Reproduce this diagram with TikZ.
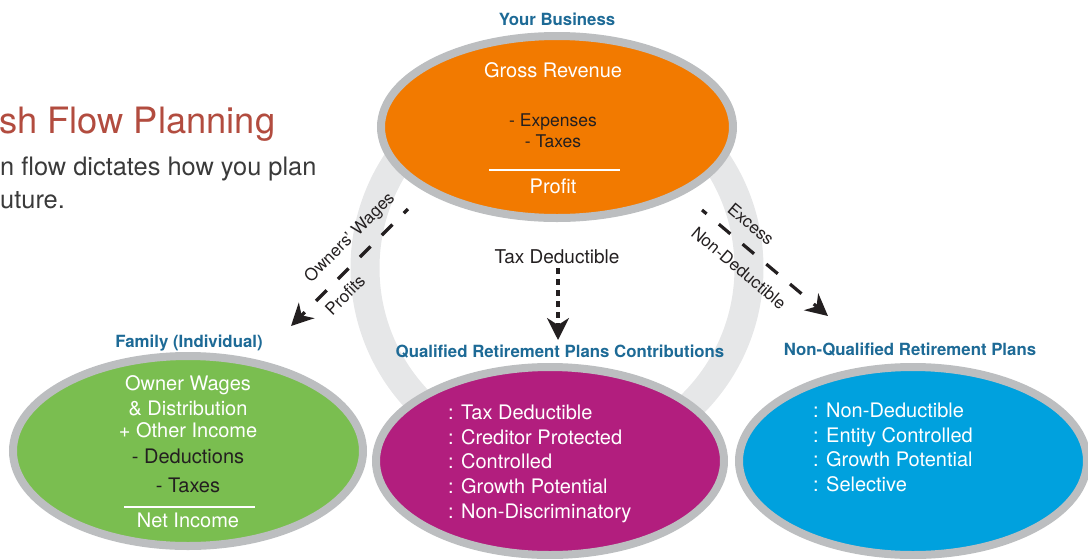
\documentclass[tikz,border=0pt]{standalone}
\usepackage{fontspec}
\setmainfont{TeX Gyre Heros}
\usetikzlibrary{arrows.meta}

\definecolor{bizorange}{RGB}{242,122,0}
\definecolor{famgreen}{RGB}{122,190,80}
\definecolor{qualmagenta}{RGB}{178,30,126}
\definecolor{nqblue}{RGB}{0,161,222}
\definecolor{rimgray}{RGB}{188,190,192}
\definecolor{ringgray}{RGB}{230,231,232}
\definecolor{headblue}{RGB}{29,106,150}
\definecolor{titlered}{RGB}{178,76,63}
\definecolor{bodygray}{RGB}{58,58,58}
\definecolor{ink}{RGB}{35,31,32}

\begin{document}
\begin{tikzpicture}[x=1pt,y=-1pt,
  blob/.style={draw=rimgray,line width=8pt},
  head/.style={inner sep=0pt,anchor=base,text=headblue,
    font=\fontsize{16.8}{18}\selectfont\bfseries},
  big/.style={inner sep=0pt,anchor=base,font=\fontsize{20}{22}\selectfont},
  mid/.style={inner sep=0pt,anchor=base,font=\fontsize{17.5}{19}\selectfont},
  item/.style={big,anchor=base west,text=white},
  flowlabel/.style={inner sep=0pt,text=ink,font=\fontsize{17}{19}\selectfont},
  flow/.style={draw=ink,line width=3.2pt,
    -{Stealth[length=22pt,width=22pt,inset=7pt]}},
  divider/.style={draw=white,line width=1.6pt}]
\useasboundingbox (0,0) rectangle (1088,558);
\clip (0,0) rectangle (1088,558);

% heading and intro text
\node[inner sep=0pt,anchor=base west,text=titlered,
  font=\fontsize{36.3}{40}\selectfont] (title) at (-1,133) {sh Flow Planning};
\node[inner sep=0pt,anchor=base west,text=bodygray,
  font=\fontsize{25.4}{30}\selectfont] (introA) at (0,175) {n flow dictates how you plan};
\node[inner sep=0pt,anchor=base west,text=bodygray,
  font=\fontsize{25.4}{30}\selectfont] (introB) at (0,208) {uture.};

% light ring linking the business to the plans
\draw[ringgray,line width=29pt] (557,268) circle [radius=192];

% centres of the four ellipses
\coordinate (biz) at (557,127);
\coordinate (fam) at (188,451);
\coordinate (qual) at (550,461);
\coordinate (nq) at (913,461);

\draw[blob,fill=bizorange] (biz) ellipse [x radius=176,y radius=91];
\draw[blob,fill=famgreen] (fam) ellipse [x radius=175,y radius=95];
\draw[blob,fill=qualmagenta] (qual) ellipse [x radius=174,y radius=94];
\draw[blob,fill=nqblue] (nq) ellipse [x radius=174,y radius=94];

% headings
\node[head] (bizHead) at (557,25) {Your Business};
\node[head] (famHead) at (189,347) {Family (Individual)};
\node[head] (qualHead) at (560,357) {Qualified Retirement Plans Contributions};
\node[head] (nqHead) at (910,355) {Non-Qualified Retirement Plans};

% business
\node[big,text=white] (gross) at (553,77) {Gross Revenue};
\node[mid,text=ink] (expenses) at (553,126) {- Expenses};
\node[mid,text=ink] (bizTaxes) at (553,147) {- Taxes};
\draw[divider] (489,170) -- (620,170);
\node[big,text=white] (profit) at (553,193) {Profit};

% family
\node[big,text=white] (wages) at (188,390) {Owner Wages};
\node[big,text=white] (distrib) at (188,415) {\& Distribution};
\node[big,text=white] (other) at (188,437) {+ Other Income};
\node[big,text=ink] (deduct) at (188,463) {- Deductions};
\node[big,text=ink] (famTaxes) at (188,492) {- Taxes};
\draw[divider] (124,507) -- (255,507);
\node[big,text=white] (net) at (188,527) {Net Income};

% qualified plans
\node[item] (q1) at (448,419) {: Tax Deductible};
\node[item] (q2) at (448,444) {: Creditor Protected};
\node[item] (q3) at (448,468) {: Controlled};
\node[item] (q4) at (448,493) {: Growth Potential};
\node[item] (q5) at (448,518) {: Non-Discriminatory};

% non-qualified plans
\node[item] (n1) at (813,417) {: Non-Deductible};
\node[item] (n2) at (813,442) {: Entity Controlled};
\node[item] (n3) at (813,466) {: Growth Potential};
\node[item] (n4) at (813,491) {: Selective};

% flows out of the business
\coordinate (wagesFrom) at (408,209);
\coordinate (wagesTo) at (291,326);
\coordinate (taxFrom) at (558,268);
\coordinate (taxTo) at (558,340);
\coordinate (excessFrom) at (702,210);
\coordinate (excessTo) at (828,316);

\draw[flow,dash pattern=on 15pt off 16pt,dash phase=9pt] (wagesFrom) -- (wagesTo);
\draw[flow,dash pattern=on 6pt off 5pt] (taxFrom) -- (taxTo);
\draw[flow,dash pattern=on 15pt off 16pt,dash phase=9pt] (excessFrom) -- (excessTo);

\node[flowlabel,rotate=45] (ownersLbl) at (350,238) {Owners’ Wages};
\node[flowlabel,rotate=45] (profitsLbl) at (345,295) {Profits};
\node[inner sep=0pt,anchor=base,text=ink,font=\fontsize{19}{21}\selectfont]
  (taxLbl) at (557,263) {Tax Deductible};
\node[flowlabel,rotate=-40] (excessLbl) at (751,224) {Excess};
\node[flowlabel,rotate=-40] (nondedLbl) at (739,268) {Non-Deductible};
\end{tikzpicture}
\end{document}
